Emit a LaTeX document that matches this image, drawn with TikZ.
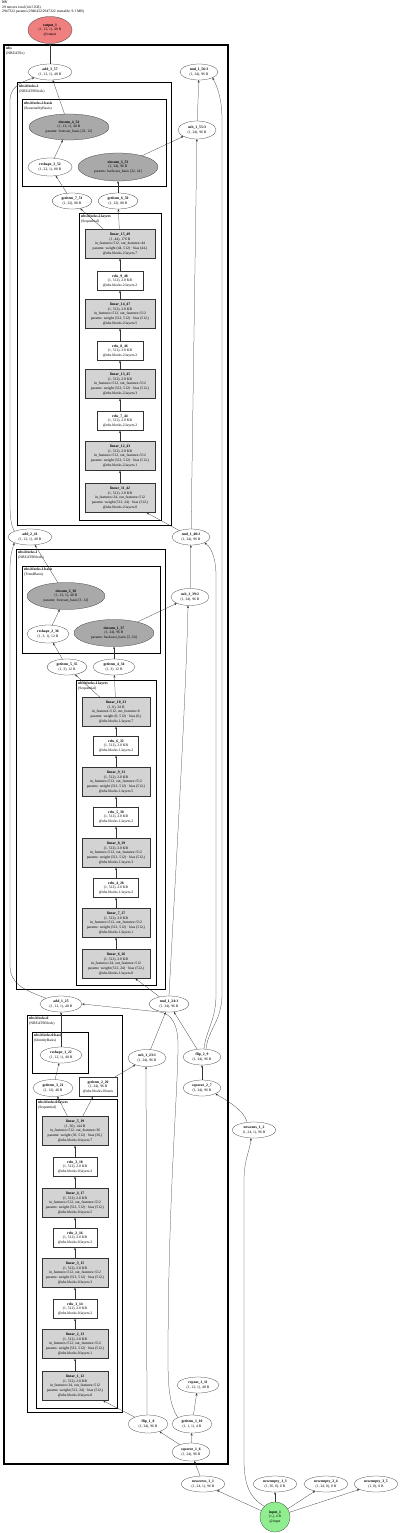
\documentclass[tikz,border=0pt]{standalone}
\usepackage{fontspec}
\setmainfont{Liberation Serif}
\usetikzlibrary{shapes.geometric,arrows.meta,calc}
\newcommand\nfont{\fontsize{3.7}{4.6}\selectfont}
\newcommand\nlab[2]{\textbf{#1}\\#2}
\newcommand\linlab[5]{\textbf{#1}\\#2\\#3\\#4\\#5}
\definecolor{outred}{HTML}{F08080}
\definecolor{ingreen}{HTML}{90EE90}
\definecolor{eingray}{HTML}{A9A9A9}
\definecolor{lingray}{HTML}{D3D3D3}
\tikzset{
 ed/.style={line width=0.25pt, draw=black!80, -{Stealth[length=2.5pt,width=2pt]}},
 ell/.style 2 args={ellipse, draw=black!80, line width=0.25pt, inner sep=0pt, align=center, font=\nfont, minimum width=#1pt, minimum height=#2pt},
 mbox/.style 2 args={rectangle, draw=black!80, line width=0.25pt, inner sep=0pt, align=center, font=\nfont, minimum width=#1pt, minimum height=#2pt},
 linbox/.style={mbox={68}{29}, fill=lingray},
 relubox/.style={mbox={45}{19}, fill=white},
 clA/.style={draw, line width=1.3pt},
 clB/.style={draw, line width=1.0pt},
 clab/.style={anchor=north west, align=left, font=\nfont, inner sep=0pt},
}
\begin{document}
\begin{tikzpicture}[x=1pt,y=-1pt]
\useasboundingbox (0,0) rectangle (400,1533);

% header
\node[clab] (hdr) at (2,1) {\textbf{NV}\\29 tensors total (44.5 KB)\\2947322 params (2946432/2947322 trainable, 9.1 MB)};

% clusters
\draw[clA] (4,45) rectangle (228,1464);
\node[clab] (cl0) at (6,47) {\textbf{nbs}\\(NBEATSx)};
\draw[clB] (17,83) rectangle (171,525);
\node[clab] (cl2) at (19,85) {\textbf{nbs.blocks.2}\\(NBEATSBlock)};
\draw[clB] (22,100) rectangle (166,187);
\node[clab] (cl2b) at (24,102) {\textbf{nbs.blocks.2.basis}\\(SeasonalityBasis)};
\draw[clB] (79,213) rectangle (161,520);
\node[clab] (cl2l) at (81,215) {\textbf{nbs.blocks.2.layers}\\(Sequential)};
\draw[clB] (16,549) rectangle (165,989);
\node[clab] (cl1) at (18,551) {\textbf{nbs.blocks.1}\\(NBEATSBlock)};
\draw[clB] (22,566) rectangle (160,653);
\node[clab] (cl1b) at (24,568) {\textbf{nbs.blocks.1.basis}\\(TrendBasis)};
\draw[clB] (76,680) rectangle (156,985);
\node[clab] (cl1l) at (78,682) {\textbf{nbs.blocks.1.layers}\\(Sequential)};
\draw[clB] (27,1015) rectangle (122,1412);
\node[clab] (clz) at (29,1017) {\textbf{nbs.blocks.0}\\(NBEATSBlock)};
\draw[clB] (32,1032) rectangle (88,1073);
\node[clab] (clzb) at (34,1034) {\textbf{nbs.blocks.0.basis}\\(IdentityBasis)};
\draw[clB] (36,1099) rectangle (117,1408);
\node[clab] (clzl) at (38,1101) {\textbf{nbs.blocks.0.layers}\\(Sequential)};

% top nodes
\node[ell={44}{27}, fill=outred] (out1) at (50,30) {\textbf{output\_1}\\(1, 12, 1), 48 B\\@output};
\node[ell={44}{16}] (add3) at (50,72) {\nlab{add\_3\_57}{(1, 12, 1), 48 B}};
\node[ell={38}{16}] (mul3) at (199,72) {\nlab{mul\_1\_56:3}{(1, 24), 96 B}};
\node[ell={38}{18}] (sub3) at (197,130) {\nlab{sub\_1\_55:3}{(1, 24), 96 B}};

% block 2
\node[ell={80}{26}, fill=eingray] (ein4) at (69,127) {\textbf{einsum\_4\_54}\\(1, 12, 1), 48 B\\params: forecast\_basis [22, 12]};
\node[ell={44}{18}] (rsh3) at (50,167) {\nlab{reshape\_3\_52}{(1, 22, 1), 88 B}};
\node[ell={80}{28}, fill=eingray] (ein3) at (118,167) {\textbf{einsum\_3\_53}\\(1, 24), 96 B\\params: backcast\_basis [22, 24]};
\node[ell={40}{16}] (gi7) at (72,201) {\nlab{getitem\_7\_51}{(1, 22), 88 B}};
\node[ell={40}{16}] (gi6) at (118,201) {\nlab{getitem\_6\_50}{(1, 22), 88 B}};
\node[linbox, minimum width=70pt] (l15) at (120,244) {\linlab{linear\_15\_49}{(1, 44), 176 B}{in\_features=512, out\_features=44}{params: weight (44, 512) · bias (44,)}{@nbs.blocks.2.layers.7}};
\node[relubox, minimum width=46pt] (r9) at (120,281) {\textbf{relu\_9\_48}\\(1, 512), 2.0 KB\\@nbs.blocks.2.layers.2};
\node[linbox, minimum width=70pt] (l14) at (120,314) {\linlab{linear\_14\_47}{(1, 512), 2.0 KB}{in\_features=512, out\_features=512}{params: weight (512, 512) · bias (512,)}{@nbs.blocks.2.layers.5}};
\node[relubox, minimum width=46pt] (r8) at (120,351) {\textbf{relu\_8\_46}\\(1, 512), 2.0 KB\\@nbs.blocks.2.layers.2};
\node[linbox, minimum width=70pt] (l13) at (120,384) {\linlab{linear\_13\_45}{(1, 512), 2.0 KB}{in\_features=512, out\_features=512}{params: weight (512, 512) · bias (512,)}{@nbs.blocks.2.layers.3}};
\node[relubox, minimum width=46pt] (r7) at (120,421) {\textbf{relu\_7\_44}\\(1, 512), 2.0 KB\\@nbs.blocks.2.layers.2};
\node[linbox, minimum width=70pt] (l12) at (120,456) {\linlab{linear\_12\_43}{(1, 512), 2.0 KB}{in\_features=512, out\_features=512}{params: weight (512, 512) · bias (512,)}{@nbs.blocks.2.layers.1}};
\node[linbox, minimum width=70pt] (l11) at (120,498) {\linlab{linear\_11\_42}{(1, 512), 2.0 KB}{in\_features=24, out\_features=512}{params: weight (512, 24) · bias (512,)}{@nbs.blocks.2.layers.0}};

\node[ell={44}{16}] (add2) at (30,537) {\nlab{add\_2\_41}{(1, 12, 1), 48 B}};
\node[ell={38}{16}] (mul2) at (191,537) {\nlab{mul\_1\_40:2}{(1, 24), 96 B}};

% block 1
\node[ell={78}{27}, fill=eingray] (ein2) at (66,596) {\textbf{einsum\_2\_38}\\(1, 12, 1), 48 B\\params: forecast\_basis [3, 12]};
\node[ell={42}{18}] (rsh2) at (48,634) {\nlab{reshape\_2\_36}{(1, 3, 1), 12 B}};
\node[ell={80}{27}, fill=eingray] (ein1) at (114,633) {\textbf{einsum\_1\_37}\\(1, 24), 96 B\\params: backcast\_basis [3, 24]};
\node[ell={38}{17}] (sub2) at (190,597) {\nlab{sub\_1\_39:2}{(1, 24), 96 B}};
\node[ell={40}{16}] (gi5) at (67,667) {\nlab{getitem\_5\_35}{(1, 3), 12 B}};
\node[ell={42}{16}] (gi4) at (114,667) {\nlab{getitem\_4\_34}{(1, 3), 12 B}};
\node[linbox] (l10) at (116,712) {\linlab{linear\_10\_33}{(1, 6), 24 B}{in\_features=512, out\_features=6}{params: weight (6, 512) · bias (6,)}{@nbs.blocks.1.layers.7}};
\node[relubox] (r6) at (116,746) {\textbf{relu\_6\_32}\\(1, 512), 2.0 KB\\@nbs.blocks.1.layers.2};
\node[linbox] (l9) at (116,782) {\linlab{linear\_9\_31}{(1, 512), 2.0 KB}{in\_features=512, out\_features=512}{params: weight (512, 512) · bias (512,)}{@nbs.blocks.1.layers.5}};
\node[relubox] (r5) at (116,817) {\textbf{relu\_5\_30}\\(1, 512), 2.0 KB\\@nbs.blocks.1.layers.2};
\node[linbox] (l8) at (116,853) {\linlab{linear\_8\_29}{(1, 512), 2.0 KB}{in\_features=512, out\_features=512}{params: weight (512, 512) · bias (512,)}{@nbs.blocks.1.layers.3}};
\node[relubox] (r4) at (116,888) {\textbf{relu\_4\_28}\\(1, 512), 2.0 KB\\@nbs.blocks.1.layers.2};
\node[linbox] (l7) at (116,923) {\linlab{linear\_7\_27}{(1, 512), 2.0 KB}{in\_features=512, out\_features=512}{params: weight (512, 512) · bias (512,)}{@nbs.blocks.1.layers.1}};
\node[linbox] (l6) at (116,964) {\linlab{linear\_6\_26}{(1, 512), 2.0 KB}{in\_features=24, out\_features=512}{params: weight (512, 24) · bias (512,)}{@nbs.blocks.1.layers.0}};

\node[ell={42}{16}] (add1) at (61,1004) {\nlab{add\_1\_25}{(1, 12, 1), 48 B}};
\node[ell={40}{16}] (mul1) at (169,1004) {\nlab{mul\_1\_24:1}{(1, 24), 96 B}};

% block 0
\node[ell={42}{16}] (rsh1) at (61,1055) {\nlab{reshape\_1\_22}{(1, 12, 1), 48 B}};
\node[ell={40}{17}] (gi3) at (53,1088) {\nlab{getitem\_3\_21}{(1, 12), 48 B}};
\node[mbox={38}{19}] (gi2) at (98,1087) {\textbf{getitem\_2\_20}\\(1, 24), 96 B\\@nbs.blocks.0.basis};
\node[ell={38}{17}] (sub1) at (147,1058) {\nlab{sub\_1\_23:1}{(1, 24), 96 B}};
\node[ell={38}{16}] (flip2) at (202,1057) {\nlab{flip\_2\_9}{(1, 24), 96 B}};
\node[ell={38}{16}] (sq2) at (202,1088) {\nlab{squeeze\_2\_7}{(1, 24), 96 B}};
\node[ell={44}{16}] (newones) at (254,1130) {\nlab{newones\_1\_2}{(1, 24, 1), 96 B}};
\node[linbox, minimum width=66pt] (l5) at (75,1131) {\linlab{linear\_5\_19}{(1, 36), 144 B}{in\_features=512, out\_features=36}{params: weight (36, 512) · bias (36,)}{@nbs.blocks.0.layers.7}};
\node[relubox, minimum width=44pt] (r3) at (75,1167) {\textbf{relu\_3\_18}\\(1, 512), 2.0 KB\\@nbs.blocks.0.layers.2};
\node[linbox, minimum width=66pt] (l4) at (75,1203) {\linlab{linear\_4\_17}{(1, 512), 2.0 KB}{in\_features=512, out\_features=512}{params: weight (512, 512) · bias (512,)}{@nbs.blocks.0.layers.5}};
\node[relubox, minimum width=44pt] (r2) at (75,1238) {\textbf{relu\_2\_16}\\(1, 512), 2.0 KB\\@nbs.blocks.0.layers.2};
\node[linbox, minimum width=66pt] (l3) at (75,1273) {\linlab{linear\_3\_15}{(1, 512), 2.0 KB}{in\_features=512, out\_features=512}{params: weight (512, 512) · bias (512,)}{@nbs.blocks.0.layers.3}};
\node[relubox, minimum width=44pt] (r1) at (75,1309) {\textbf{relu\_1\_14}\\(1, 512), 2.0 KB\\@nbs.blocks.0.layers.2};
\node[linbox, minimum width=66pt] (l2) at (75,1344) {\linlab{linear\_2\_13}{(1, 512), 2.0 KB}{in\_features=512, out\_features=512}{params: weight (512, 512) · bias (512,)}{@nbs.blocks.0.layers.1}};
\node[linbox, minimum width=66pt] (l1) at (75,1386) {\linlab{linear\_1\_12}{(1, 512), 2.0 KB}{in\_features=24, out\_features=512}{params: weight (512, 24) · bias (512,)}{@nbs.blocks.0.layers.0}};

% bottom
\node[ell={40}{18}] (flip1) at (148,1424) {\nlab{flip\_1\_8}{(1, 24), 96 B}};
\node[ell={42}{16}] (rep1) at (198,1385) {\nlab{repeat\_1\_11}{(1, 12, 1), 48 B}};
\node[ell={40}{18}] (gi1) at (192,1424) {\nlab{getitem\_1\_10}{(1, 1, 1), 4 B}};
\node[ell={38}{18}] (sq1) at (191,1452) {\nlab{squeeze\_1\_6}{(1, 24), 96 B}};
\node[ell={44}{16}] (nz1) at (203,1484) {\nlab{newzeros\_1\_1}{(1, 24, 1), 96 B}};
\node[ell={44}{16}] (ne1) at (275,1484) {\nlab{newempty\_1\_3}{(1, 36, 0), 0 B}};
\node[ell={44}{16}] (ne2) at (326,1484) {\nlab{newempty\_2\_4}{(1, 24, 0), 0 B}};
\node[ell={44}{16}] (ne3) at (376,1484) {\nlab{newempty\_3\_5}{(1, 0), 0 B}};
\node[circle, draw=black!80, line width=0.25pt, inner sep=0pt, minimum size=30pt, fill=ingreen, align=center, font=\nfont] (in1) at (275,1517) {\textbf{input\_1}\\(1,), 4 B\\@input};

% edges: input stage
\draw[ed] (in1) -- (nz1);
\draw[ed] (in1) -- (ne1);
\draw[ed] (in1) -- (ne2);
\draw[ed] (in1) -- (ne3);
\draw[ed] (in1.north west) .. controls (250,1498) and (244,1485) .. (244,1460) -- (244,1180) .. controls (244,1160) and (250,1150) .. ([xshift=-3pt]newones.south);
\draw[ed] (nz1) -- (sq1);
\draw[ed] ([xshift=-7pt]newones.north) .. controls (244,1110) and (226,1100) .. (sq2.south east);
\draw[ed] (sq1) -- (flip1);
\draw[ed] (sq1) -- (gi1);
\draw[ed] (gi1) -- (rep1);
\draw[ed] (gi1.north west) .. controls (170,1405) and (168,1390) .. (168,1360) .. controls (168,1200) and (178,1090) .. (178,1045) .. controls (178,1025) and (172,1014) .. (160,1012) -- (add1.east);
\draw[ed] (sq2) -- (flip2);
\draw[ed] (flip1) -- (l1);
\draw[ed] ([xshift=-1pt]flip1.north) -- ([xshift=-1pt]sub1.south);
\draw[ed] (flip2) -- (mul1);
\draw[ed] ([xshift=2pt]flip2.north) .. controls (206,1030) and (216,1020) .. (216,995) -- (216,575) .. controls (216,560) and (212,548) .. (mul2.south east);
\draw[ed] ([xshift=4pt]flip2.north) .. controls (208,1030) and (222,1020) .. (222,995) -- (222,120) .. controls (222,100) and (218,88) .. (mul3.south east);

% block 0 edges
\draw[ed] (l1) -- (l2);
\draw[ed] (l2) -- (r1);
\draw[ed] (r1) -- (l3);
\draw[ed] (l3) -- (r2);
\draw[ed] (r2) -- (l4);
\draw[ed] (l4) -- (r3);
\draw[ed] (r3) -- (l5);
\draw[ed] (l5) -- (gi3);
\draw[ed] (l5) -- (gi2);
\draw[ed] (gi3) -- (rsh1);
\draw[ed] (rsh1) -- (add1);
\draw[ed] (gi2) -- (sub1);
\draw[ed] (sub1) -- (mul1);
\draw[ed] (mul1) -- (l6);
\draw[ed] (mul1.north) .. controls (174,900) and (186,700) .. ([xshift=-2pt]sub2.south);
\draw[ed] (add1.north west) .. controls (25,990) and (10,985) .. (10,965) -- (10,570) .. controls (10,556) and (12,550) .. (add2.south west);

% block 1 edges
\draw[ed] (l6) -- (l7);
\draw[ed] (l7) -- (r4);
\draw[ed] (r4) -- (l8);
\draw[ed] (l8) -- (r5);
\draw[ed] (r5) -- (l9);
\draw[ed] (l9) -- (r6);
\draw[ed] (r6) -- (l10);
\draw[ed] (l10) -- (gi5);
\draw[ed] (l10) -- (gi4);
\draw[ed] (gi5) -- (rsh2);
\draw[ed] (rsh2) -- (ein2);
\draw[ed] (ein2) -- (add2);
\draw[ed] (gi4) -- (ein1);
\draw[ed] (ein1) -- (sub2);
\draw[ed] (sub2) -- (mul2);
\draw[ed] (mul2) -- (l11);
\draw[ed] (mul2) -- (sub3);
\draw[ed] (add2.north west) .. controls (12,527) and (10,520) .. (10,505) -- (10,100) .. controls (10,88) and (20,82) .. (add3.south west);

% block 2 edges
\draw[ed] (l11) -- (l12);
\draw[ed] (l12) -- (r7);
\draw[ed] (r7) -- (l13);
\draw[ed] (l13) -- (r8);
\draw[ed] (r8) -- (l14);
\draw[ed] (l14) -- (r9);
\draw[ed] (r9) -- (l15);
\draw[ed] (l15) -- (gi7);
\draw[ed] (l15) -- (gi6);
\draw[ed] (gi7) -- (rsh3);
\draw[ed] (rsh3) -- (ein4);
\draw[ed] (ein4) -- (add3);
\draw[ed] (gi6) -- (ein3);
\draw[ed] (ein3) -- (sub3);
\draw[ed] (sub3) -- (mul3);
\draw[ed] (add3) -- (out1);
\end{tikzpicture}
\end{document}
